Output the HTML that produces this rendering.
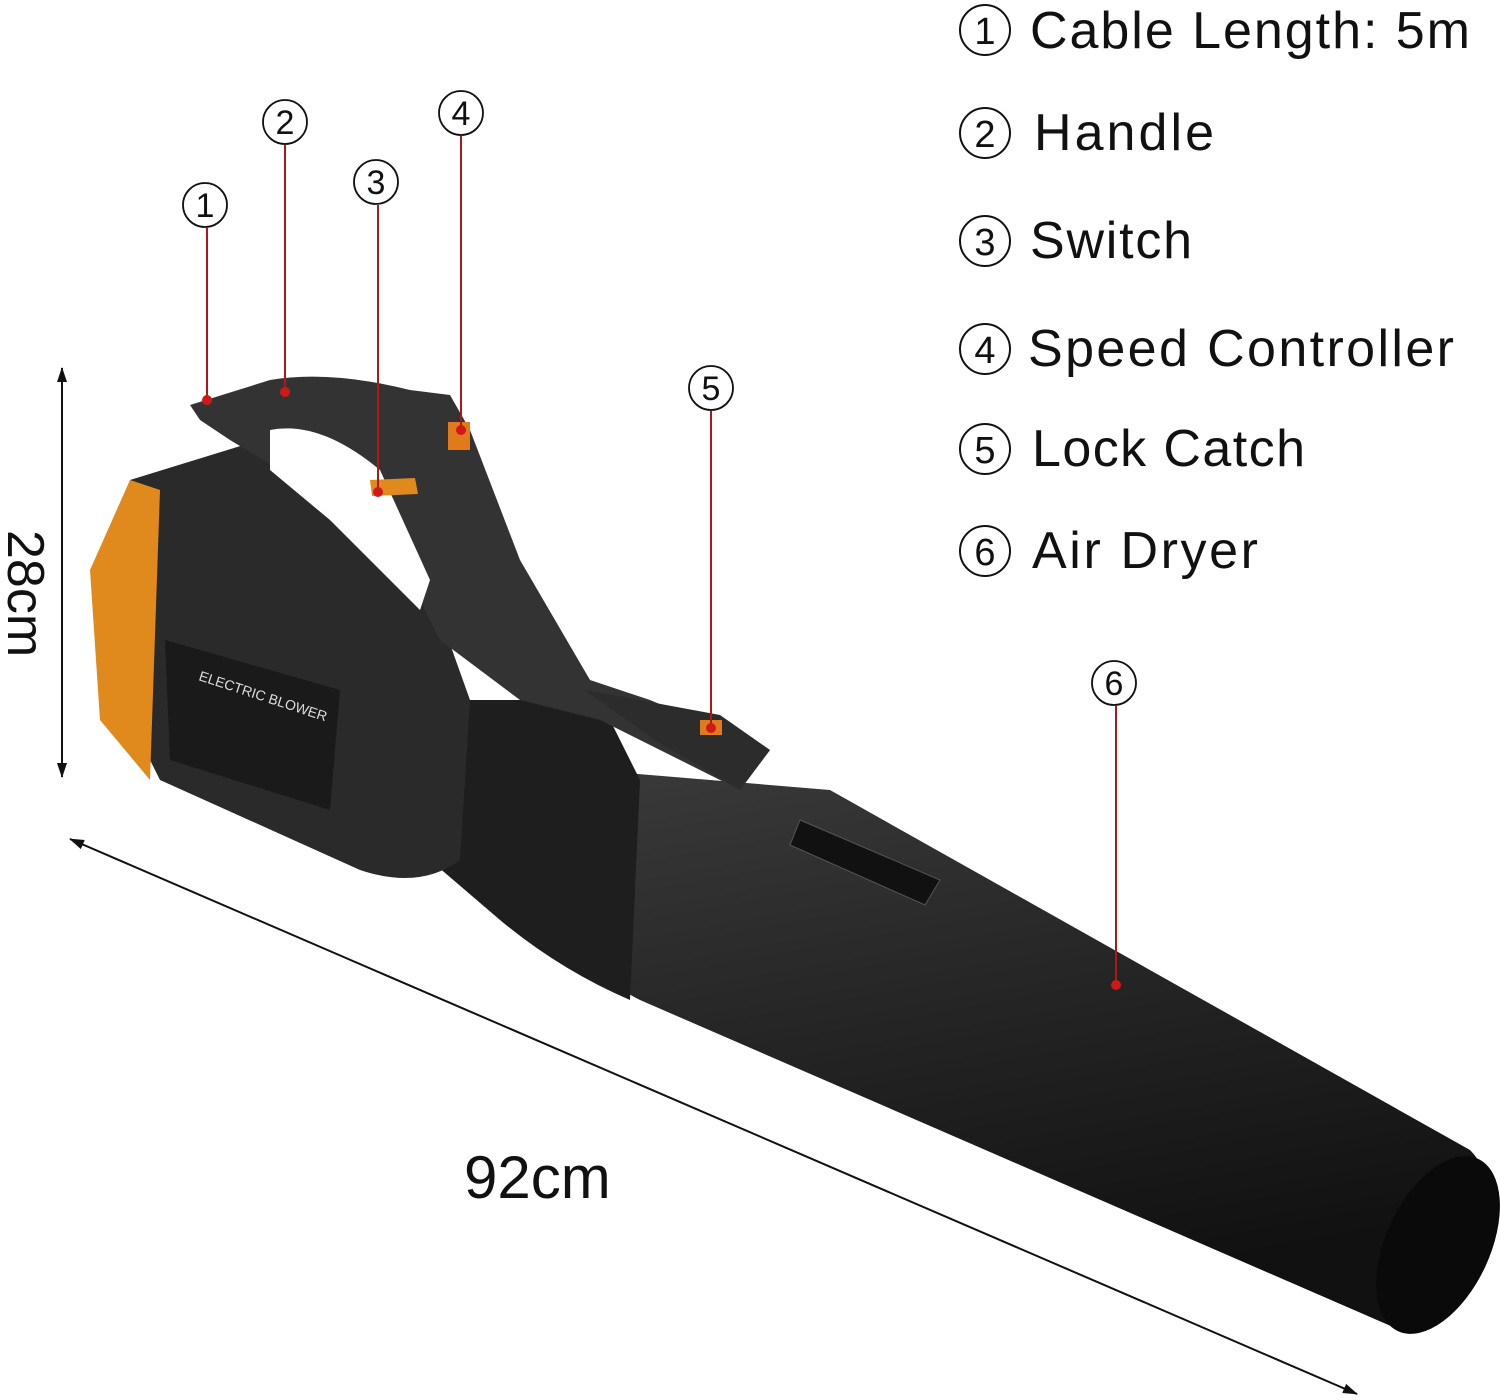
<!DOCTYPE html>
<html><head><meta charset="utf-8"><style>
html,body{margin:0;padding:0;background:#fff;}
svg{display:block;}
text{font-family:"Liberation Sans","DejaVu Sans",sans-serif;}
</style></head><body>
<svg width="1500" height="1400" viewBox="0 0 1500 1400" xmlns="http://www.w3.org/2000/svg">
<defs>
<linearGradient id="tube" x1="0" y1="0" x2="0.3" y2="1">
<stop offset="0" stop-color="#3a3a3a"/><stop offset="0.5" stop-color="#252525"/><stop offset="1" stop-color="#111"/>
</linearGradient>
<marker id="ah" markerWidth="16" markerHeight="12" refX="14" refY="6" orient="auto-start-reverse" markerUnits="userSpaceOnUse"><path d="M0,1 L15,6 L0,11 z" fill="#111"/></marker>
</defs>
<rect width="1500" height="1400" fill="#fff"/>

<g fill="none" stroke="#111" stroke-width="2">
<circle cx="985" cy="30" r="25"/><circle cx="985" cy="133" r="25"/><circle cx="985" cy="241" r="25"/>
<circle cx="985" cy="349" r="25"/><circle cx="985" cy="449" r="25"/><circle cx="985" cy="551" r="25"/>
</g>
<g font-size="38" fill="#111" text-anchor="middle">
<text x="985" y="44">1</text><text x="985" y="147">2</text><text x="985" y="255">3</text>
<text x="985" y="363">4</text><text x="985" y="463">5</text><text x="985" y="565">6</text>
</g>
<g font-size="52" fill="#111">
<text x="1030" y="48" textLength="440">Cable Length: 5m</text>
<text x="1034" y="150" textLength="180">Handle</text>
<text x="1030" y="258" textLength="162">Switch</text>
<text x="1028" y="366" textLength="426">Speed Controller</text>
<text x="1032" y="466" textLength="273">Lock Catch</text>
<text x="1032" y="568" textLength="226">Air Dryer</text>
</g>

<line x1="62" y1="368" x2="62" y2="777" stroke="#111" stroke-width="2" marker-start="url(#ah)" marker-end="url(#ah)"/>
<text x="0" y="0" font-size="52" fill="#111" transform="translate(8,530) rotate(90)">28cm</text>
<line x1="70" y1="839" x2="1357" y2="1394" stroke="#111" stroke-width="2" marker-start="url(#ah)" marker-end="url(#ah)"/>
<text x="464" y="1198" font-size="60" fill="#111">92cm</text>

<path d="M590,770 L830,790 L1470,1150 Q1500,1180 1480,1240 Q1450,1320 1400,1330 L640,1000 Q560,960 560,880 Z" fill="url(#tube)"/>
<ellipse cx="1438" cy="1245" rx="52" ry="95" transform="rotate(25 1438 1245)" fill="#0a0a0a"/>
<path d="M430,700 L600,700 L640,780 L630,1000 Q560,970 500,920 L430,860 Z" fill="#1e1e1e"/>
<path d="M130,480 L260,440 L420,560 L470,700 L460,860 Q420,890 360,870 L160,780 L120,700 Z" fill="#2a2a2a"/>
<path d="M90,570 L130,480 L160,490 L150,780 L100,720 Z" fill="#e08a1e"/>
<path d="M165,640 L340,690 L330,810 L170,760 Z" fill="#1a1a1a"/>
<text x="0" y="0" font-size="14" fill="#ddd" transform="translate(198,680) rotate(18)">ELECTRIC BLOWER</text>
<path d="M190,405 L270,380 Q330,370 410,390 L450,395 L470,430 L520,560 L590,680 L650,700 L770,750 L740,790 L600,720 L520,700 L440,640 L400,560 L340,500 L280,470 L230,440 L200,420 Z" fill="#333"/>
<path d="M270,430 Q320,420 380,470 L430,580 L420,610 L330,520 L270,470 Z" fill="#fff"/>
<path d="M370,480 L415,478 L418,494 L372,496 Z" fill="#e08a1e"/>
<rect x="448" y="422" width="22" height="28" fill="#e07a1a"/>
<path d="M585,690 L720,715 L770,750 L740,790 L655,740 Z" fill="#2c2c2c"/>
<path d="M700,720 L722,720 L722,735 L700,735 Z" fill="#e07a1a"/>
<path d="M800,820 L940,880 L925,905 L790,845 Z" fill="#111" stroke="#555"/>

<g stroke="#b01818" stroke-width="2">
<line x1="207" y1="228" x2="207" y2="400"/>
<line x1="285" y1="145" x2="285" y2="392"/>
<line x1="378" y1="205" x2="378" y2="492"/>
<line x1="461" y1="136" x2="461" y2="430"/>
<line x1="711" y1="411" x2="711" y2="728"/>
<line x1="1116" y1="706" x2="1116" y2="985"/>
</g>
<g fill="#d01818">
<circle cx="207" cy="400" r="5"/><circle cx="285" cy="392" r="5"/><circle cx="378" cy="492" r="5"/>
<circle cx="461" cy="430" r="5"/><circle cx="711" cy="728" r="5"/><circle cx="1116" cy="985" r="5"/>
</g>
<g fill="#fff" stroke="#111" stroke-width="1.8">
<circle cx="205" cy="205" r="22"/><circle cx="285" cy="122" r="22"/><circle cx="376" cy="182" r="22"/>
<circle cx="461" cy="113" r="22"/><circle cx="711" cy="388" r="22"/><circle cx="1114" cy="683" r="22"/>
</g>
<g font-size="34" fill="#111" text-anchor="middle">
<text x="205" y="217">1</text><text x="285" y="134">2</text><text x="376" y="194">3</text>
<text x="461" y="125">4</text><text x="711" y="400">5</text><text x="1114" y="695">6</text>
</g>
</svg>
</body></html>
